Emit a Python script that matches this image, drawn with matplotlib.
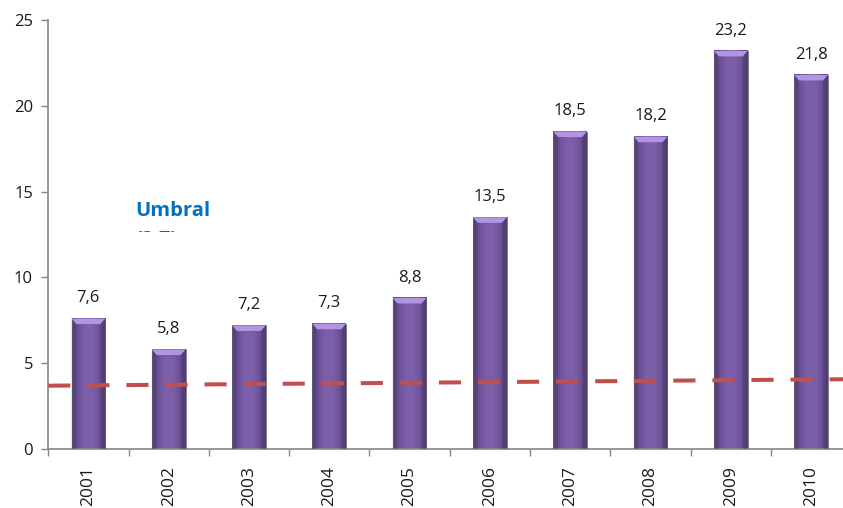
import numpy as np
import matplotlib
matplotlib.use("Agg")
import matplotlib.pyplot as plt
from matplotlib.colors import LinearSegmentedColormap
from matplotlib.patches import Polygon, Rectangle

plt.rcParams['font.family'] = ['Open Sans', 'DejaVu Sans']

# Datos
anios = ['2001', '2002', '2003', '2004', '2005', '2006', '2007', '2008', '2009', '2010']
valores = [7.6, 5.8, 7.2, 7.3, 8.8, 13.5, 18.5, 18.2, 23.2, 21.8]
etiquetas = ['7,6', '5,8', '7,2', '7,3', '8,8', '13,5', '18,5', '18,2', '23,2', '21,8']
umbral_ini = 3.69
umbral_fin = 4.07
yticks = [0, 5, 10, 15, 20, 25]

fig = plt.figure(figsize=(8.43, 5.08), dpi=100)
ax = fig.add_axes([0.0572, 0.1161, 0.9525, 0.8445])

# Relleno de las barras con degradado horizontal (bordes oscuros)
degradado = LinearSegmentedColormap.from_list(
    'morado', ['#55417a', '#6e539a', '#7d60a9', '#7c5fa8', '#6e539a', '#55417a'])
grad = np.linspace(0, 1, 64).reshape(1, -1)
ancho = 0.42
xs = np.arange(len(anios))

for x, v in zip(xs, valores):
    ax.imshow(grad, cmap=degradado, aspect='auto', zorder=2,
              extent=(x - ancho / 2, x + ancho / 2, 0, v), interpolation='bilinear')
    ax.add_patch(Rectangle((x - ancho / 2, 0), ancho, v, fill=False,
                           edgecolor='#6b6580', linewidth=0.6, zorder=3))
    # bisel claro en la parte superior
    bis_x = 0.06
    bis_y = 0.32
    ax.add_patch(Polygon([(x - ancho / 2, v), (x + ancho / 2, v),
                          (x + ancho / 2 - bis_x, v - bis_y),
                          (x - ancho / 2 + bis_x, v - bis_y)],
                         closed=True, facecolor='#b394e2', edgecolor='none', zorder=3))
    ax.add_patch(Polygon([(x - ancho / 2, v), (x - ancho / 2 + bis_x, v - bis_y),
                          (x - ancho / 2 + bis_x, 0), (x - ancho / 2, 0)],
                         closed=True, facecolor='#4a3864', edgecolor='none', alpha=0.25, zorder=3))
    ax.add_patch(Polygon([(x + ancho / 2, v), (x + ancho / 2 - bis_x, v - bis_y),
                          (x + ancho / 2 - bis_x, 0), (x + ancho / 2, 0)],
                         closed=True, facecolor='#3f2f57', edgecolor='none', alpha=0.3, zorder=3))

for x, v, t in zip(xs, valores, etiquetas):
    ax.text(x, v + 0.72, t, ha='center', va='bottom', fontsize=12, color='#1a1a1a', zorder=5)

# Linea del umbral
ax.plot([-0.5, len(anios) - 0.5], [umbral_ini, umbral_fin], color='#c0504d',
        linewidth=2.9, dashes=(5.5, 4.2), zorder=4, solid_capstyle='butt')

ax.set_xlim(-0.5, len(anios) - 0.5)
ax.set_ylim(0, 25)
ax.set_yticks(yticks)
ax.set_yticklabels([str(t) for t in yticks], fontsize=12, color='#1a1a1a')
ax.set_xticks(xs)
ax.set_xticklabels(anios, rotation=90, fontsize=12.5, color='#1a1a1a')
ax.tick_params(axis='x', length=0, pad=12)
ax.set_xticks(np.arange(len(anios) + 1) - 0.5, minor=True)
ax.tick_params(axis='x', which='minor', length=5, color='#868686', width=1)
ax.tick_params(axis='y', length=5, color='#868686', width=1, pad=6)

for lado in ['top', 'right']:
    ax.spines[lado].set_visible(False)
for lado in ['left', 'bottom']:
    ax.spines[lado].set_color('#868686')
    ax.spines[lado].set_linewidth(1.2)

# Caja de texto del umbral, recortada
txt = fig.text(135 / 843, 1 - 201 / 508, 'Umbral\n(3,7)', fontsize=14.5, fontweight='bold',
               color='#0070c0', ha='left', va='top', linespacing=1.6)
caja = Rectangle((0, 1 - 232 / 508), 1, 232 / 508, transform=fig.transFigure,
                 facecolor='none', edgecolor='none')
fig.add_artist(caja)
txt.set_clip_path(caja)

fig.savefig('out.png', dpi=100)
